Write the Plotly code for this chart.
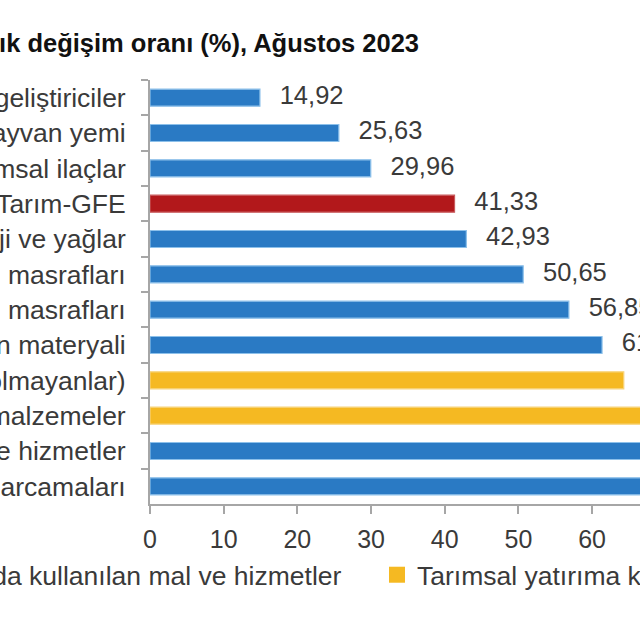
import plotly.graph_objects as go

# rows top to bottom, sorted by annual change (%)
categories = [
    "Gübre ve toprak geliştiriciler",
    "Hayvan yemi",
    "Tarımsal ilaçlar",
    "Tarım-GFE",
    "Enerji ve yağlar",
    "Binaların bakımı masrafları",
    "Malzemelerin bakımı masrafları",
    "Tohum ve fidan materyali",
    "Diğerleri (Bina ve makine olmayanlar)",
    "Makine ve diğer malzemeler",
    "Diğer mal ve hizmetler",
    "Veteriner harcamaları",
]
values = [14.92, 25.63, 29.96, 41.33, 42.93, 50.65, 56.85, 61.35, 64.30, 68.40, 71.20, 77.60]
groups = ["use", "use", "use", "total", "use", "use", "use", "use", "inv", "inv", "use", "use"]

group_names = {
    "use": "Tarımda kullanılan mal ve hizmetler",
    "inv": "Tarımsal yatırıma katkıda bulunan mal ve hizmetler",
    "total": "Tarım-GFE",
}
colors = {"use": "#2A7AC4", "inv": "#F5B922", "total": "#B2181B"}
edge_colors = {"use": "#8CC0EA", "inv": "#F8D37A", "total": "#C85A5C"}

FONT = "Liberation Sans, Arial, sans-serif"
TXT = "#3A3A3A"
LABEL_SIZE = 26.5

fig = go.Figure()

for g in ["use", "total", "inv"]:
    ys = [c for c, gg in zip(categories, groups) if gg == g]
    xs = [v for v, gg in zip(values, groups) if gg == g]
    fig.add_trace(go.Bar(
        x=xs, y=ys, orientation="h", name=group_names[g],
        marker=dict(color=colors[g], line=dict(color=edge_colors[g], width=1.2)),
        showlegend=False, hoverinfo="x+y",
    ))

# value labels
fig.add_trace(go.Scatter(
    x=values, y=categories, mode="markers+text",
    marker=dict(size=30, opacity=0),
    texttemplate="%{x:.2f}", textposition="middle right",
    textfont=dict(size=25.5, color=TXT, family=FONT),
    cliponaxis=False, showlegend=False, hoverinfo="skip",
))

# legend entries, one legend each so they sit on one row
for g, lg in [("use", "legend"), ("inv", "legend2")]:
    fig.add_trace(go.Scatter(
        x=[None], y=[None], mode="markers", name=group_names[g],
        marker=dict(symbol="square", size=20, color=colors[g]),
        showlegend=True, legend=lg,
    ))

legend_style = dict(
    orientation="h", itemsizing="trace",
    xanchor="left", yanchor="middle",
    font=dict(size=LABEL_SIZE, color=TXT, family=FONT),
    bgcolor="rgba(0,0,0,0)",
)

fig.update_layout(
    width=640, height=640, autosize=False,
    margin=dict(l=150, r=0, t=80, b=136, autoexpand=False),
    paper_bgcolor="white", plot_bgcolor="white",
    barmode="overlay", bargap=0.52,
    separators=",.",
    font=dict(family=FONT, size=25, color=TXT),
    title=dict(
        text="<b>Tarım-GFE alt gruplarına göre yıllık değişim oranı (%), Ağustos 2023</b>",
        font=dict(size=25.5, color="#111111", family=FONT),
        xref="container", x=419 / 640, xanchor="right",
        yref="container", y=1 - 43 / 640, yanchor="middle",
    ),
    legend=dict(legend_style, x=(-114 - 150) / 490, y=(504 - 575) / 424),
    legend2=dict(legend_style, x=(377 - 150) / 490, y=(504 - 575) / 424),
    xaxis=dict(
        range=[0, 66.5], tick0=0, dtick=10,
        showline=True, linecolor="#A6A6A6", linewidth=2,
        ticks="outside", ticklen=8, tickwidth=2, tickcolor="#A6A6A6",
        showgrid=False, zeroline=False, automargin=False,
        ticklabelstandoff=4,
        tickfont=dict(size=25, color=TXT, family=FONT),
    ),
    yaxis=dict(
        type="category", categoryorder="array", categoryarray=categories,
        range=[len(categories) - 0.5, -0.5],
        showline=True, linecolor="#A6A6A6", linewidth=2,
        ticks="outside", tickson="boundaries", ticklen=7, tickwidth=2, tickcolor="#A6A6A6",
        showgrid=False, zeroline=False, automargin=False,
        ticklabelstandoff=17,
        tickfont=dict(size=LABEL_SIZE, color=TXT, family=FONT),
    ),
)

fig.write_html("out.html", config={"displayModeBar": False},
               post_script="document.body.style.margin='0px';")
